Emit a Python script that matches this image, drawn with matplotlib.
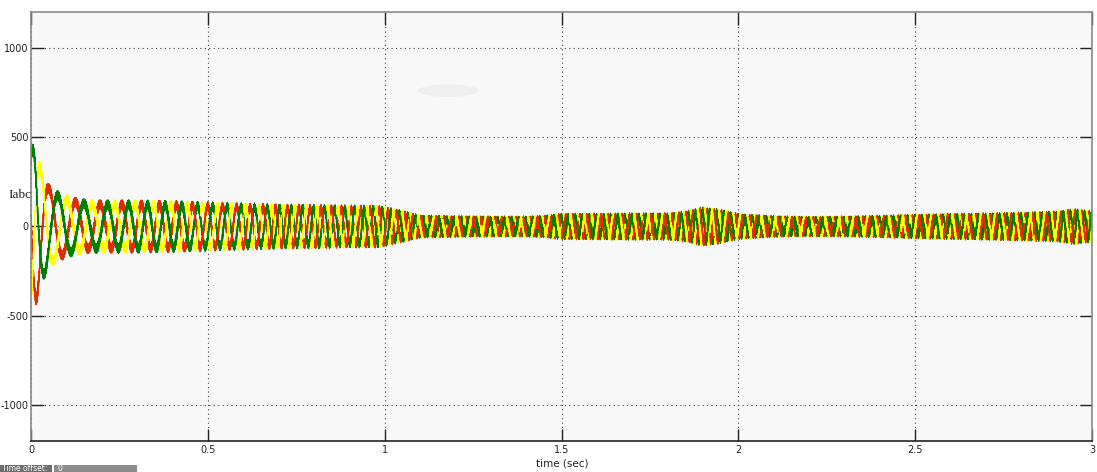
import numpy as np
import matplotlib
matplotlib.use("Agg")
import matplotlib.pyplot as plt
from matplotlib.patches import Ellipse, Rectangle

# ---- values ----
# peak envelope of the phase currents (A) at given times (s)
env_t = [0, 0.015, 0.03, 0.05, 0.08, 0.1, 0.13, 0.16, 0.2, 0.3, 0.4, 0.5, 0.6, 0.7,
         0.8, 0.9, 0.98, 1.05, 1.1, 1.2, 1.3, 1.4, 1.45, 1.5, 1.6, 1.7, 1.8, 1.85,
         1.9, 1.95, 2.0, 2.1, 2.2, 2.3, 2.4, 2.5, 2.6, 2.7, 2.8, 2.9, 2.95, 3.0]
env_a = [475, 440, 330, 240, 195, 178, 162, 152, 150, 150, 146, 140, 134, 128,
         126, 122, 122, 92, 66, 62, 60, 60, 64, 75, 76, 78, 78, 88,
         112, 98, 74, 62, 58, 60, 64, 70, 74, 78, 82, 88, 102, 90]
# fundamental frequency of the currents (Hz)
freq_t = [0, 0.03, 0.06, 0.15, 0.35, 0.6, 0.9, 1.1, 1.3, 3.0]
freq_hz = [18, 14, 13, 14, 20, 26, 36, 45, 50, 50]
# time of an early positive peak of phase a (red); b and c lag by 120 deg each
red_peak_time = 0.051
phase_lag_deg = [0, 240, 120]          # red, yellow, green
# switching ripple amplitude (A) and its two main frequencies (Hz)
ripple_t = [0, 0.5, 1.0, 1.5, 3.0]
ripple_a = [27, 26, 26, 28, 28]
ripple_hz = [1150, 2730]
phase_names = ["Ia", "Ib", "Ic"]
phase_colors = ["#dd2e00", "#ffff00", "#008000"]

xticks = [0, 0.5, 1, 1.5, 2, 2.5, 3]
xtick_labels = ["0", "0.5", "1", "1.5", "2", "2.5", "3"]
yticks = [-1000, -500, 0, 500, 1000]
ytick_labels = ["-1000", "-500", "0", "500", "1000"]

# ---- build waveforms ----
fs = 20000
t = np.arange(0, 3.0 + 1 / fs, 1 / fs)
f = np.interp(t, freq_t, freq_hz)
theta = 2 * np.pi * np.cumsum(f) / fs
theta0 = np.pi / 2 - np.interp(red_peak_time, t, theta)
rip = np.interp(t, ripple_t, ripple_a)
amp = np.interp(t, env_t, env_a) - rip

waves = []
for i in range(3):
    ph = theta0 - np.deg2rad(phase_lag_deg[i])
    y = (amp * np.sin(theta + ph)
         + 0.6 * rip * np.sin(2 * np.pi * ripple_hz[0] * t + 2.1 * i)
         + 0.4 * rip * np.sin(2 * np.pi * ripple_hz[1] * t + 1.3 * i))
    waves.append(y)

fig = plt.figure(figsize=(10.97, 4.72), dpi=100)
fig.patch.set_facecolor("white")
ax = fig.add_axes([31 / 1097, 31 / 472, (1092 - 31) / 1097, (441 - 12) / 472])
ax.set_facecolor("#f8f8f8")

# draw in short chunks with a rotating stacking order so the three phases interleave
chunk = 0.012
step = int(round(chunk * fs))
k = 0
a = 0
while a < len(t) - 1:
    b = min(len(t), a + step + 1)
    for i in range(3):
        if t[a] < 0.45:
            z = 2 + i * 0.1
            lw = 0.9
        else:
            z = 2 + ((i + k) % 3) * 0.1
            lw = 0.7
        ax.plot(t[a:b], waves[i][a:b], color=phase_colors[i], lw=lw, zorder=z,
                solid_capstyle="butt")
    a += step
    k += 1

# faint smudge seen in the reference
ax.add_patch(Ellipse((1.18, 760), 0.17, 70, facecolor="#efefef", edgecolor="none", zorder=0.5))

ax.set_xlim(0, 3)
ax.set_ylim(-1200, 1200)
ax.set_xticks(xticks)
ax.set_xticklabels(xtick_labels)
ax.set_yticks(yticks)
ax.set_yticklabels(ytick_labels)
ax.tick_params(direction="in", length=9, width=1.0, colors="#222222",
               labelsize=7, top=True, right=True, pad=3)
ax.tick_params(axis="y", pad=2)
ax.grid(True, linestyle=(0, (1, 3)), color="#444444", linewidth=0.8)
for side in ["left", "right", "top"]:
    ax.spines[side].set_color("#8a8a8a")
    ax.spines[side].set_linewidth(1.2)
ax.spines["bottom"].set_color("#222222")
ax.spines["bottom"].set_linewidth(1.2)

fig.text(562 / 1097, 1 - 463 / 472, "time (sec)", ha="center", va="center",
         fontsize=7.5, color="#222222")
fig.text(8 / 1097, 1 - 195 / 472, "Iabc", ha="left", va="center",
         fontsize=9.5, family="Liberation Serif", color="#222222")

# "Time offset" bar
fig.patches.append(Rectangle((0, 0), 52 / 1097, 7 / 472, transform=fig.transFigure,
                             facecolor="#6e6e6e", edgecolor="none"))
fig.patches.append(Rectangle((54 / 1097, 0), 83 / 1097, 7 / 472, transform=fig.transFigure,
                             facecolor="#8c8c8c", edgecolor="none"))
fig.text(2 / 1097, -1 / 472, "Time offset:", ha="left", va="bottom",
         fontsize=5.5, color="white")
fig.text(57 / 1097, -1 / 472, "0", ha="left", va="bottom",
         fontsize=5.5, color="white")

fig.savefig("out.png", dpi=100)
